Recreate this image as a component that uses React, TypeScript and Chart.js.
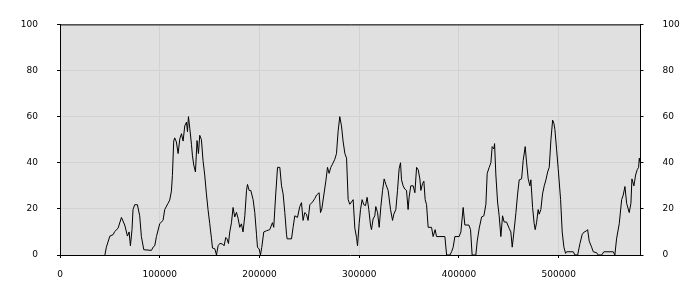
import React, { useEffect, useRef } from "react";
import { Chart, registerables } from "chart.js";

Chart.register(...registerables);

const xValues: number[] = [
  45000, 46500, 50000, 53200, 54900, 58200, 61600, 64900, 67600, 69300, 70600, 72200, 73200, 74900, 77600, 79900,
  81600, 84000, 91700, 93300, 95000, 96700, 100000, 103300, 105000, 108300, 110000, 111700, 112700, 114000,
  115000, 116700, 118400, 120100, 121800, 123400, 125100, 126800, 127800, 128800, 130100, 131800, 132800,
  134100, 135800, 137400, 138800, 140100, 141800, 143400, 145100, 146800, 148400, 150100, 151900, 152900,
  155200, 156900, 158500, 160200, 162900, 164500, 166200, 167500, 168900, 170200, 171900, 173500, 175200,
  176900, 178500, 180200, 181900, 183500, 185300, 187000, 188000, 189600, 191300, 193600, 195300, 197000,
  198000, 199600, 201000, 202300, 204300, 207000, 210300, 213000, 214300, 216300, 218100, 220400, 222100,
  223700, 225400, 227100, 227700, 232100, 233700, 235400, 238100, 240400, 242100, 243700, 245400, 247100,
  248700, 250500, 253200, 255500, 257200, 259800, 261200, 262500, 264500, 266500, 268200, 269800, 271500,
  273200, 275500, 277200, 278800, 280500, 282200, 283800, 285600, 287300, 288900, 290600, 293900, 295600,
  297300, 298300, 299900, 301300, 302900, 304600, 306300, 307900, 309600, 311300, 312300, 313900, 315600,
  316600, 318400, 320000, 321700, 323400, 325000, 326700, 329000, 331400, 333400, 334700, 336700, 338400,
  340000, 341400, 342400, 344000, 345700, 347400, 349000, 350000, 351700, 354100, 355800, 357500, 359100,
  360800, 361800, 363500, 364800, 366100, 367500, 369100, 372500, 374100, 376100, 377500, 385900, 387600,
  390900, 392600, 394200, 395900, 400200, 401900, 404200, 405900, 409900, 411600, 413200, 416900, 418300,
  420300, 422700, 425000, 427000, 428300, 430300, 432000, 433300, 435000, 435700, 437000, 438700, 440300,
  442000, 443700, 445300, 447700, 450300, 452000, 453400, 455100, 457100, 458800, 460400, 462800, 464400,
  466400, 467800, 469400, 471100, 472100, 473800, 475400, 476400, 477800, 479400, 480400, 482100, 483800,
  485500, 487200, 488900, 490500, 492200, 493900, 495200, 496200, 497900, 499500, 501900, 503500, 505200,
  506900, 507900, 514600, 516300, 519000, 521300, 523600, 525600, 528000, 529000, 530600, 533000, 534600,
  538000, 539600, 543000, 545300, 554700, 556300, 558000, 560700, 563100, 564700, 566400, 568100, 570700,
  572400, 573400, 575400, 577100, 578700, 580100, 580800, 581700,
];

const yValues: number[] = [
  0, 3.4, 8.2, 8.8, 10.2, 11.6, 16.3, 13, 8.2, 10, 4, 11, 19.7, 21.8, 21.8, 17,
  8, 2.3, 2, 3.4, 4, 8, 13.6, 15, 19.7, 22.4, 23.8, 27.7, 34.5, 49.4,
  50.8, 49, 44, 50.3, 52.6, 49.4, 56, 57.6, 53.5, 60, 55, 48, 43,
  39, 36, 49.6, 44, 51.9, 50, 41, 34.7, 26.5, 19.7, 13.7, 7, 3,
  2.7, 0, 4, 5, 4.8, 4, 7.6, 7, 5, 10, 14, 20.6, 16.5,
  18.5, 16, 12, 13.5, 10, 17, 28, 30.6, 28, 28, 24, 18.4, 9,
  3.3, 2.7, 0, 3.3, 10, 10.5, 11, 14, 12, 26.5, 38, 38, 30,
  26.5, 18.4, 9, 7, 7, 12, 17, 16.3, 21, 22.7, 15, 18.4, 17.7,
  15, 21.8, 23, 24.5, 26, 27, 18.4, 20, 26, 32, 38, 35.4, 38,
  39.4, 41.5, 44, 53.5, 60, 56, 49.4, 44, 42, 24, 22, 24, 11.6,
  7.6, 4, 13.6, 19.7, 24, 21.8, 21.4, 25, 19.7, 13, 11, 15.6, 17,
  21, 18.4, 12, 21, 28, 33, 30.6, 28, 19.7, 15, 17.7, 19.7, 28,
  37.4, 40, 32.6, 30, 28.6, 28, 19.7, 25, 30, 30, 27, 38, 37,
  33, 28, 31, 32, 24, 21.8, 12, 12, 8, 11, 8, 8, 0,
  0, 1.4, 3.4, 8, 8, 10, 20.6, 13, 13, 11, 0, 0, 6,
  11.6, 16.5, 17, 22, 35.4, 38, 40, 47, 46, 48.3, 34.7, 23, 17,
  8, 17, 14.3, 14.3, 11.6, 10, 3.4, 10, 18.4, 26.5, 32.6, 33, 41,
  47, 40, 33, 30, 32.6, 20.6, 13.6, 11, 14, 19.7, 17.7, 19.7, 26.5,
  30, 32.6, 36, 38, 50, 58.5, 57, 54.4, 45.6, 37.4, 24, 10, 3.4,
  0.7, 1.4, 1.4, 0, 0, 5, 9, 10, 10.5, 11, 6, 3.4, 1.4,
  1, 0, 0, 1.4, 1.4, 0, 7, 13.6, 24, 26, 29.7, 22.4, 18.4,
  22.4, 33, 30, 34.7, 37, 38, 42, 40,
];

const xTickValues: number[] = [0, 100000, 200000, 300000, 400000, 500000];
const yTickValues: number[] = [0, 20, 40, 60, 80, 100];

const xMin = 0;
const xMax = 582000;
const yMin = 0;
const yMax = 100;

const FONT = { family: "DejaVu Sans", size: 9 };

export default function App() {
  const canvasRef = useRef<HTMLCanvasElement | null>(null);

  useEffect(() => {
    if (!canvasRef.current) return;
    const points = xValues.map((x, i) => ({ x, y: yValues[i] }));

    const bgPlugin = {
      id: "plotBg",
      beforeDraw(chart: any) {
        const { ctx, chartArea } = chart;
        ctx.save();
        ctx.fillStyle = "#e0e0e0";
        ctx.fillRect(chartArea.left, chartArea.top, chartArea.right - chartArea.left, chartArea.bottom - chartArea.top);
        ctx.restore();
      },
      afterDraw(chart: any) {
        const { ctx, chartArea } = chart;
        ctx.save();
        ctx.strokeStyle = "#000";
        ctx.lineWidth = 1;
        ctx.beginPath();
        ctx.moveTo(chartArea.left, chartArea.top + 0.5);
        ctx.lineTo(chartArea.right + 0.5, chartArea.top + 0.5);
        ctx.stroke();
        ctx.restore();
      },
    };

    const yTicks = (s: any) => {
      s.ticks = yTickValues.map((v) => ({ value: v }));
    };

    const chart = new Chart(canvasRef.current, {
      type: "scatter",
      data: {
        datasets: [
          {
            data: points,
            showLine: true,
            borderColor: "#000",
            borderWidth: 1,
            pointRadius: 0,
            tension: 0,
            fill: false,
            yAxisID: "y",
          },
        ],
      },
      options: {
        animation: false,
        responsive: true,
        maintainAspectRatio: false,
        layout: { padding: { top: 10, left: 0, right: 0, bottom: 0 } },
        plugins: { legend: { display: false }, tooltip: { enabled: false } },
        scales: {
          x: {
            type: "linear",
            min: xMin,
            max: xMax,
            afterBuildTicks: (s: any) => {
              s.ticks = xTickValues.map((v) => ({ value: v }));
            },
            afterFit: (s: any) => {
              s.height = 45;
            },
            ticks: {
              color: "#000",
              font: FONT,
              padding: 11,
              maxRotation: 0,
              autoSkip: false,
              callback: (v: any) => String(v),
            },
            grid: { color: "#d2d2d2", tickColor: "#000", tickLength: 3 },
            border: { color: "#000" },
          },
          y: {
            type: "linear",
            position: "left",
            min: yMin,
            max: yMax,
            afterBuildTicks: yTicks,
            afterFit: (s: any) => {
              s.width = 60;
            },
            ticks: { color: "#000", font: FONT, padding: 19, autoSkip: false },
            grid: { color: "#d2d2d2", tickColor: "#000", tickLength: 3 },
            border: { color: "#000" },
          },
          y2: {
            type: "linear",
            position: "right",
            min: yMin,
            max: yMax,
            afterBuildTicks: yTicks,
            afterFit: (s: any) => {
              s.width = 59.5;
            },
            ticks: { color: "#000", font: FONT, padding: 19, autoSkip: false },
            grid: { drawOnChartArea: false, tickColor: "#000", tickLength: 3 },
            border: { color: "#000" },
          },
        },
      },
      plugins: [bgPlugin],
    } as any);

    return () => chart.destroy();
  }, []);

  return (
    <div style={{ position: "absolute", left: 0, top: 0, width: 700, height: 300, background: "#fff" }}>
      <canvas ref={canvasRef} />
    </div>
  );
}
